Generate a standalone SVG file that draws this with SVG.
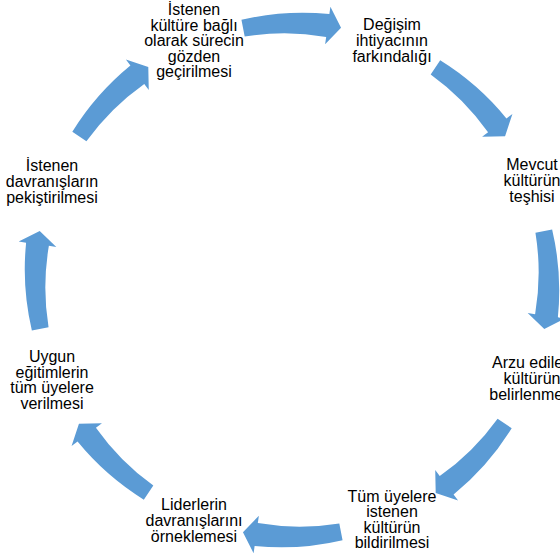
<svg xmlns="http://www.w3.org/2000/svg" xmlns:xlink="http://www.w3.org/1999/xlink" width="560" height="560" viewBox="0 0 560 560">
<style>
text{font-family:"Liberation Sans",Arial,sans-serif;font-size:16px;fill:#000;text-anchor:middle}
.arrow{fill:#5B9BD5}
</style>
<defs>
<path id="arw" class="arrow" d="M -50.56,-260.13 A 267 267 0 0 1 37.37,-265.89 L 38.41,-273.31 L 49.04,-252.28 L 33.12,-235.68 L 34.17,-243.11 A 247 247 0 0 0 -47.32,-243.44 Z"/>
</defs>
<rect width="560" height="560" fill="#fff"/>
<g id="connectors">
<use xlink:href="#arw" transform="translate(292 280) rotate(0)"/>
<use xlink:href="#arw" transform="translate(292 280) rotate(45)"/>
<use xlink:href="#arw" transform="translate(292 280) rotate(90)"/>
<use xlink:href="#arw" transform="translate(292 280) rotate(135)"/>
<use xlink:href="#arw" transform="translate(292 280) rotate(180)"/>
<use xlink:href="#arw" transform="translate(292 280) rotate(225)"/>
<use xlink:href="#arw" transform="translate(292 280) rotate(270)"/>
<use xlink:href="#arw" transform="translate(292 280) rotate(315)"/>
</g>
<g id="node1"><text x="194" y="15">İstenen</text><text x="194" y="30.5">kültüre bağlı</text><text x="194" y="46">olarak sürecin</text><text x="194" y="61.5">gözden</text><text x="194" y="77">geçirilmesi</text></g>
<g id="node2"><text x="392" y="29.5">Değişim</text><text x="392" y="45.5">ihtiyacının</text><text x="392" y="61.5">farkındalığı</text></g>
<g id="node3"><text x="532" y="170">Mevcut</text><text x="532" y="186">kültürün</text><text x="532" y="202">teşhisi</text></g>
<g id="node4"><text x="532" y="368">Arzu edilen</text><text x="532" y="384">kültürün</text><text x="532" y="400">belirlenmesi</text></g>
<g id="node5"><text x="392" y="501.5">Tüm üyelere</text><text x="392" y="517">istenen</text><text x="392" y="532.5">kültürün</text><text x="392" y="548">bildirilmesi</text></g>
<g id="node6"><text x="194" y="509.5">Liderlerin</text><text x="194" y="525.5">davranışlarını</text><text x="194" y="541.5">örneklemesi</text></g>
<g id="node7"><text x="52" y="362">Uygun</text><text x="52" y="377.5">eğitimlerin</text><text x="52" y="393">tüm üyelere</text><text x="52" y="408.5">verilmesi</text></g>
<g id="node8"><text x="52" y="170.5">İstenen</text><text x="52" y="186.5">davranışların</text><text x="52" y="202.5">pekiştirilmesi</text></g>
</svg>
